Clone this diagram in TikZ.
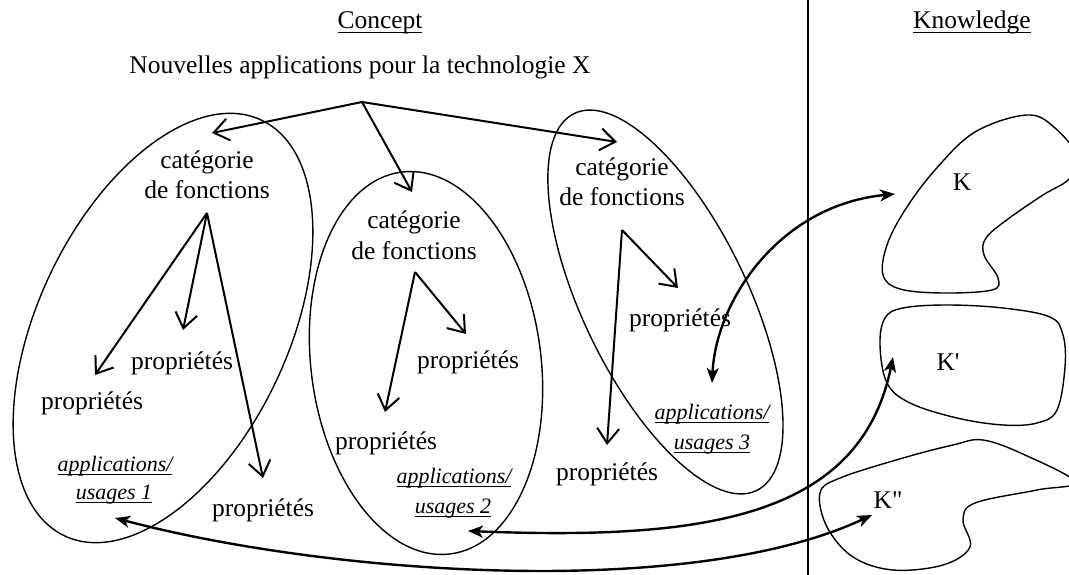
\documentclass[tikz,border=0pt]{standalone}
\usepackage{fontspec}
\setmainfont{Liberation Serif}
\usetikzlibrary{arrows.meta}
\newcommand\myul[1]{\leavevmode\setbox0\hbox{#1}\rlap{\vrule width\wd0 height -2.6pt depth 3.7pt}\box0}
\begin{document}
\begin{tikzpicture}[x=1pt,y=-1pt,
  lbl/.style={font=\fontsize{25.5}{30}\selectfont, inner sep=0pt, anchor=base},
  ital/.style={font=\fontsize{22}{29}\selectfont\itshape, inner sep=0pt, anchor=base},
  arr/.style={line width=2pt, -{Straight Barb[length=15pt,width=22pt]}},
  carr/.style={line width=2.4pt, {Stealth[length=15pt,width=12pt,inset=4pt]}-{Stealth[length=15pt,width=12pt,inset=4pt]}},
  oval/.style={line width=1.4pt},
  blob/.style={line width=1.4pt},
  divider/.style={line width=1.3pt}]
\path[fill=white,use as bounding box] (0,0) rectangle (1069,575);
\clip (0,0) rectangle (1069,575);

% headings
\node[lbl] (concept) at (380,29) {\myul{Concept}};
\node[lbl] (knowledge) at (972,29) {\myul{Knowledge}};
\node[lbl] (title) at (360,74) {Nouvelles applications pour la technologie X};
\coordinate (top1) at (808,0);
\coordinate (bot1) at (808,575);
\draw[divider] (top1) -- (bot1);

% ellipses
\coordinate (e1) at (163,328);
\coordinate (e2) at (426,363);
\coordinate (e3) at (665.5,302);
\draw[oval, rotate around={-25.35:(e1)}] (e1) ellipse [x radius=125pt, y radius=230pt];
\draw[oval, rotate around={7.3:(e2)}] (e2) ellipse [x radius=115pt, y radius=192.5pt];
\draw[oval, rotate around={25.8:(e3)}] (e3) ellipse [x radius=82.5pt, y radius=209.4pt];

% texts, group 1
\node[lbl] (c1a) at (207,169) {catégorie};
\node[lbl] (c1b) at (207,199) {de fonctions};
\node[lbl] (p1a) at (182,369) {propriétés};
\node[lbl] (p1b) at (92,409) {propriétés};
\node[lbl] (p1c) at (263,516) {propriétés};
\node[ital] (a1a) at (115,471) {\myul{applications/}};
\node[ital] (a1b) at (114,499) {\myul{usages 1}};
% group 2
\node[lbl] (c2a) at (414,229) {catégorie};
\node[lbl] (c2b) at (414,259) {de fonctions};
\node[lbl] (p2a) at (468,368) {propriétés};
\node[lbl] (p2b) at (386,449) {propriétés};
\node[ital] (a2a) at (454,483) {\myul{applications/}};
\node[ital] (a2b) at (453,513) {\myul{usages 2}};
% group 3
\node[lbl] (c3a) at (622,176) {catégorie};
\node[lbl] (c3b) at (622,206) {de fonctions};
\node[lbl] (p3a) at (680,326) {propriétés};
\node[lbl] (p3b) at (607,480) {propriétés};
\node[ital] (a3a) at (712,419) {\myul{applications/}};
\node[ital] (a3b) at (712,449) {\myul{usages 3}};

% knowledge blobs
\draw[blob] plot[smooth cycle, tension=0.6] coordinates {(1027,115) (1055,128) (1080,160) (1068,180) (1043,195) (1008,219) (986,238) (984,255) (998,278) (992,290) (943,293) (900,289) (883,275) (887,245) (905,210) (935,170) (975,132)};
\draw[blob] plot[smooth cycle, tension=0.6] coordinates {(903,308) (947,305) (1003,308) (1050,317) (1063,335) (1065,367) (1057,410) (1037,423) (1003,425) (957,418) (910,403) (887,383) (880,345) (885,318)};
\draw[blob] plot[smooth cycle, tension=0.6] coordinates {(983,440) (1025,455) (1075,482) (1037,490) (975,503) (963,520) (970,547) (943,565) (893,570) (853,557) (827,527) (820,493) (840,478) (903,458) (953,445)};
\node[lbl] (k1) at (962,190) {K};
\node[lbl] (k2) at (948,370) {K\textquotesingle};
\node[lbl] (k3) at (888,508) {K\textquotedbl};

% top arrows
\coordinate (root) at (362,102);
\coordinate (t1) at (212,133);
\coordinate (t2) at (412,192);
\coordinate (t3) at (617,142);
\draw[arr] (root) -- (t1);
\draw[arr] (root) -- (t2);
\draw[arr] (root) -- (t3);

% group arrows
\coordinate (r1) at (207,213);
\coordinate (r1a) at (95,375);
\coordinate (r1b) at (183,330);
\coordinate (r1c) at (263,478);
\draw[arr] (r1) -- (r1a);
\draw[arr] (r1) -- (r1b);
\draw[arr] (r1) -- (r1c);
\coordinate (r2) at (415,272);
\coordinate (r2a) at (385,412);
\coordinate (r2b) at (466,334);
\draw[arr] (r2) -- (r2a);
\draw[arr] (r2) -- (r2b);
\coordinate (r3) at (622,230);
\coordinate (r3a) at (678,288);
\coordinate (r3b) at (607,445);
\draw[arr] (r3) -- (r3a);
\draw[arr] (r3) -- (r3b);

% curved double arrows
\coordinate (u3) at (712,383);
\coordinate (kt) at (895,194);
\draw[carr] (u3) .. controls (716,300) and (780,205) .. (kt);
\coordinate (u2) at (468,531);
\coordinate (kpt) at (893,357);
\draw[carr] (u2) .. controls (700,540) and (860,520) .. (kpt);
\coordinate (u1) at (115,518);
\coordinate (kppt) at (872,515);
\draw[carr] (u1) .. controls (330,575) and (690,600) .. (kppt);
\end{tikzpicture}
\end{document}
